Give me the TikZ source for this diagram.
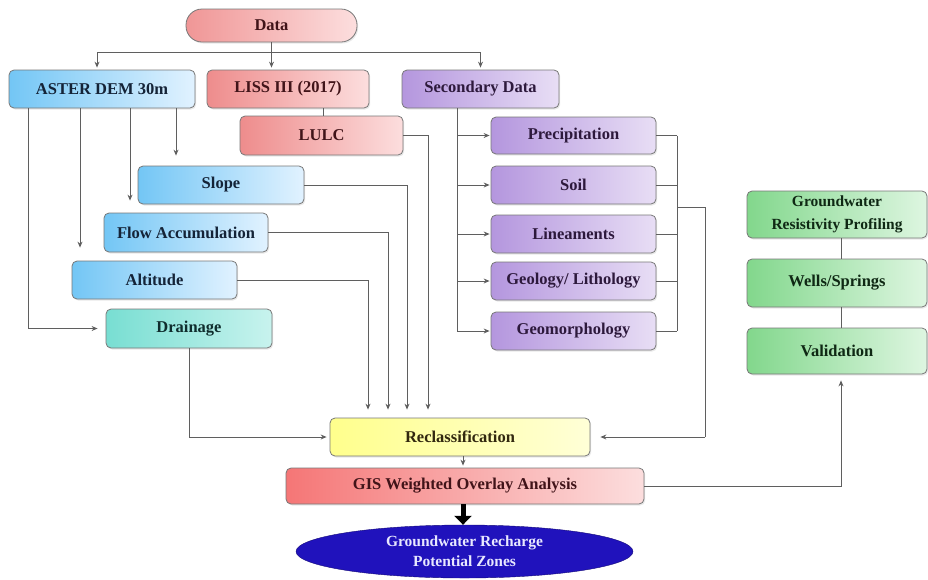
\documentclass[tikz,border=0pt]{standalone}
\usepackage{fontspec}
\setmainfont{Liberation Serif}
\usetikzlibrary{arrows.meta,shapes.geometric,shadows}
\definecolor{edgeg}{RGB}{120,120,120}
\definecolor{lineg}{RGB}{95,95,95}
\tikzset{
  box/.style={draw=edgeg, line width=0.8pt, rounded corners=5pt, inner sep=0pt, align=center,
    drop shadow={opacity=0.18, shadow xshift=1.2pt, shadow yshift=-1.5pt},
    font=\bfseries\fontsize{16.5}{22}\selectfont},
  bluebox/.style={box, left color={rgb,255:red,115;green,198;blue,245}, right color={rgb,255:red,225;green,242;blue,255}, text={rgb,255:red,20;green,35;blue,55}},
  redbox/.style={box, left color={rgb,255:red,238;green,140;blue,140}, right color={rgb,255:red,252;green,222;blue,222}, text={rgb,255:red,65;green,20;blue,25}},
  purplebox/.style={box, left color={rgb,255:red,180;green,150;blue,222}, right color={rgb,255:red,232;green,222;blue,245}, text={rgb,255:red,45;green,25;blue,60}},
  tealbox/.style={box, left color={rgb,255:red,120;green,222;blue,210}, right color={rgb,255:red,200;green,243;blue,238}, text={rgb,255:red,15;green,45;blue,45}},
  greenbox/.style={box, left color={rgb,255:red,130;green,215;blue,140}, right color={rgb,255:red,222;green,246;blue,225}, text={rgb,255:red,15;green,40;blue,20}},
  yellowbox/.style={box, left color={rgb,255:red,255;green,255;blue,140}, right color={rgb,255:red,255;green,255;blue,215}, text={rgb,255:red,50;green,40;blue,15}},
  conn/.style={draw=lineg, line width=0.9pt},
  arr/.style={conn, -{Stealth[length=6pt,width=5pt]}},
}
\begin{document}
\begin{tikzpicture}[x=1pt,y=-1pt]
\useasboundingbox (0,0) rectangle (928,579);
% nodes
\node[redbox, rounded corners=16pt, left color={rgb,255:red,240;green,150;blue,150}, minimum width=171pt, minimum height=33pt] (data) at (271.5,25.5) {Data};
\node[bluebox, minimum width=186pt, minimum height=38pt] (aster) at (102,89) {ASTER DEM 30m};
\node[redbox, minimum width=162pt, minimum height=38pt] (liss) at (288,89) {LISS III (2017)};
\node[purplebox, minimum width=157pt, minimum height=38pt] (sec) at (480.5,89) {Secondary Data};
\node[redbox, minimum width=163pt, minimum height=39pt] (lulc) at (321.5,135.5) {LULC};
\node[bluebox, minimum width=166pt, minimum height=38pt] (slope) at (221,185) {Slope};
\node[bluebox, minimum width=164pt, minimum height=39pt] (flow) at (186,232.5) {Flow Accumulation};
\node[bluebox, minimum width=165pt, minimum height=38pt] (alt) at (154.5,280) {Altitude};
\node[tealbox, minimum width=166pt, minimum height=39pt] (drain) at (189,328.5) {Drainage};
\node[purplebox, minimum width=165pt, minimum height=37pt] (prec) at (573.5,135.5) {Precipitation};
\node[purplebox, minimum width=165pt, minimum height=38pt] (soil) at (573.5,185) {Soil};
\node[purplebox, minimum width=165pt, minimum height=38pt] (lin) at (573.5,234) {Lineaments};
\node[purplebox, minimum width=165pt, minimum height=38pt] (geol) at (573.5,281) {Geology/ Lithology};
\node[purplebox, minimum width=165pt, minimum height=38pt] (geom) at (573.5,331) {Geomorphology};
\node[greenbox, minimum width=180pt, minimum height=47pt, font=\bfseries\fontsize{15.5}{23}\selectfont] (grp) at (837,214.5) {Groundwater\\Resistivity Profiling};
\node[greenbox, minimum width=180pt, minimum height=48pt] (wells) at (837,283) {Wells/Springs};
\node[greenbox, minimum width=180pt, minimum height=46pt] (valid) at (837,351) {Validation};
\node[yellowbox, minimum width=260pt, minimum height=38pt] (recl) at (460,437) {Reclassification};
\node[redbox, left color={rgb,255:red,245;green,118;blue,118}, minimum width=358pt, minimum height=36pt] (gis) at (465,486) {GIS Weighted Overlay Analysis};
\node[ellipse, draw={rgb,255:red,20;green,10;blue,120}, fill={rgb,255:red,32;green,18;blue,188}, inner sep=0pt,
  minimum width=337pt, minimum height=53pt, align=center, text={rgb,255:red,232;green,232;blue,255},
  font=\bfseries\fontsize{15.5}{20}\selectfont] (gw) at (464.5,551.5) {Groundwater Recharge\\Potential Zones};
% bend coordinates
\coordinate (bus) at (271.5,52);
\coordinate (xt) at (97,0);
\coordinate (xa) at (28,0);
\coordinate (xb) at (80,0);
\coordinate (xc) at (130,0);
\coordinate (xd) at (176,0);
\coordinate (xl) at (323,0);
\coordinate (xs) at (457,0);
\coordinate (xcol) at (677,0);
\coordinate (br) at (677,207);
\coordinate (xr) at (705,0);
\coordinate (r1) at (368,0);
\coordinate (r2) at (388,0);
\coordinate (r3) at (407,0);
\coordinate (r4) at (428,0);
\coordinate (xg) at (463,0);
\coordinate (xv) at (841,0);
% Data connectors
\draw[conn] (data.south) -- (bus);
\draw[arr, shorten >=2pt] (bus) -| (xt |- aster.north);
\draw[arr, shorten >=2pt] (bus) -- (bus |- liss.north);
\draw[arr, shorten >=2pt] (bus) -| (sec.north);
% LISS to LULC
\draw[conn] (xl |- liss.south) -- (xl |- lulc.north);
% ASTER connectors
\draw[arr, shorten >=10pt] (xd |- aster.south) -- (xd |- slope.north);
\draw[arr, shorten >=12pt] (xc |- aster.south) -- (xc |- flow.north);
\draw[arr, shorten >=13pt] (xb |- aster.south) -- (xb |- alt.north);
\draw[arr, shorten >=8pt] (xa |- aster.south) |- (drain.west);
% Secondary connectors
\draw[conn] (xs |- sec.south) -- (xs |- geom.west);
\foreach \n in {prec,soil,lin,geol,geom}{
  \draw[arr, shorten >=1pt] (xs |- \n.west) -- (\n.west);
  \draw[conn] (\n.east) -- (xcol |- \n.east);
}
\draw[conn] (xcol |- prec.east) -- (xcol |- geom.east);
\draw[conn] (br) -| (xr |- recl.east);
\draw[arr, shorten >=10pt] (xr |- recl.east) -- (recl.east);
% to Reclassification
\draw[arr, shorten >=8pt] (lulc.east) -| (r4 |- recl.north);
\draw[arr, shorten >=8pt] (slope.east) -| (r3 |- recl.north);
\draw[arr, shorten >=8pt] (flow.east) -| (r2 |- recl.north);
\draw[arr, shorten >=8pt] (alt.east) -| (r1 |- recl.north);
\draw[arr, shorten >=3pt] (drain.south) |- (recl.west);
% lower chain
\draw[arr, shorten >=2pt] (xg |- recl.south) -- (xg |- gis.north);
\draw[black, line width=5pt, -{Triangle[length=9pt,width=17pt]}] (xg |- gis.south) -- (xg |- gw.north);
\draw[arr, shorten >=6pt] (gis.east) -| (xv |- valid.south);
% green chain
\draw[conn] (xv |- grp.south) -- (xv |- wells.north);
\draw[conn] (xv |- wells.south) -- (xv |- valid.north);
\end{tikzpicture}
\end{document}
